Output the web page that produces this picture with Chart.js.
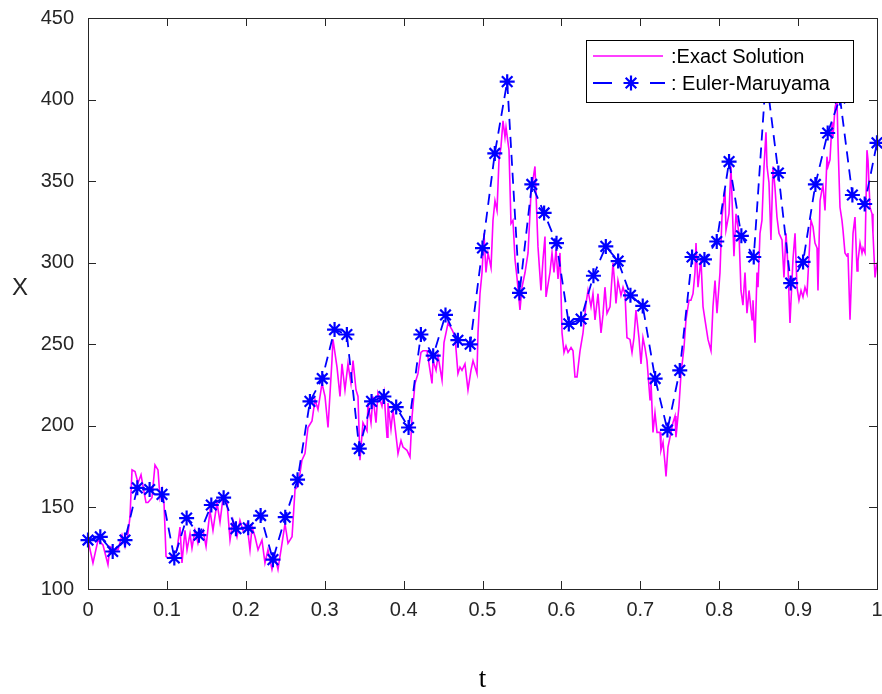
<!DOCTYPE html>
<html><head><meta charset="utf-8">
<script src="https://cdn.jsdelivr.net/npm/chart.js@4/dist/chart.umd.min.js"></script>
<style>html,body{margin:0;padding:0;background:#fff;overflow:hidden}canvas{display:block}</style>
</head><body>
<canvas id="c" width="882" height="694"></canvas>
<script>
// ---- data ----
const exactT = [
0,0.0063,0.0127,0.0190,0.0253,0.0279,0.0342,0.0380,0.0431,0.0469,
0.0507,0.0532,0.0558,0.0596,0.0634,0.0672,0.0697,0.0735,0.0760,0.0811,
0.0849,0.0887,0.0913,0.0938,0.0963,0.0989,0.1014,0.1065,0.1128,0.1166,
0.1191,0.1229,0.1255,0.1293,0.1318,0.1356,0.1394,0.1420,0.1458,0.1496,
0.1546,0.1584,0.1635,0.1673,0.1711,0.1762,0.1800,0.1838,0.1888,0.1926,
0.1964,0.2015,0.2053,0.2079,0.2117,0.2155,0.2205,0.2243,0.2281,0.2332,
0.2370,0.2408,0.2459,0.2497,0.2535,0.2586,0.2624,0.2662,0.2712,0.2750,
0.2788,0.2839,0.2877,0.2915,0.2966,0.3004,0.3042,0.3092,0.3105,0.3156,
0.3194,0.3219,0.3257,0.3295,0.3333,0.3359,0.3397,0.3422,0.3447,0.3485,
0.3536,0.3549,0.3587,0.3612,0.3650,0.3675,0.3726,0.3752,0.3790,0.3802,
0.3840,0.3866,0.3916,0.3929,0.3967,0.3992,0.4043,0.4081,0.4106,0.4144,
0.4182,0.4220,0.4246,0.4297,0.4322,0.4360,0.4373,0.4411,0.4436,0.4487,
0.4512,0.4563,0.4613,0.4651,0.4689,0.4715,0.4740,0.4778,0.4816,0.4854,
0.4880,0.4918,0.4930,0.4943,0.4968,0.4994,0.5019,0.5044,0.5070,0.5108,
0.5133,0.5158,0.5184,0.5209,0.5234,0.5260,0.5285,0.5298,0.5336,0.5361,
0.5386,0.5412,0.5437,0.5475,0.5501,0.5539,0.5577,0.5615,0.5640,0.5665,
0.5678,0.5703,0.5741,0.5767,0.5792,0.5805,0.5855,0.5881,0.5906,0.5932,
0.5957,0.5982,0.6008,0.6033,0.6058,0.6084,0.6122,0.6147,0.6172,0.6198,
0.6236,0.6274,0.6312,0.6337,0.6375,0.6400,0.6426,0.6464,0.6502,0.6527,
0.6552,0.6578,0.6616,0.6654,0.6679,0.6692,0.6717,0.6755,0.6781,0.6806,
0.6831,0.6869,0.6895,0.6920,0.6945,0.6983,0.7009,0.7034,0.7059,0.7085,
0.7123,0.7135,0.7161,0.7186,0.7212,0.7250,0.7262,0.7288,0.7313,0.7326,
0.7351,0.7389,0.7414,0.7440,0.7452,0.7490,0.7516,0.7554,0.7579,0.7617,
0.7642,0.7668,0.7693,0.7706,0.7731,0.7769,0.7795,0.7820,0.7858,0.7896,
0.7921,0.7947,0.7972,0.8010,0.8035,0.8073,0.8086,0.8124,0.8149,0.8187,
0.8213,0.8251,0.8276,0.8301,0.8327,0.8352,0.8378,0.8416,0.8428,0.8454,
0.8479,0.8492,0.8517,0.8542,0.8568,0.8593,0.8606,0.8631,0.8656,0.8682,
0.8707,0.8732,0.8758,0.8796,0.8821,0.8847,0.8872,0.8897,0.8935,0.8961,
0.8986,0.9011,0.9037,0.9062,0.9087,0.9113,0.9125,0.9163,0.9189,0.9214,
0.9240,0.9252,0.9278,0.9303,0.9316,0.9341,0.9366,0.9379,0.9404,0.9430,
0.9442,0.9468,0.9493,0.9506,0.9531,0.9556,0.9569,0.9594,0.9620,0.9632,
0.9658,0.9683,0.9696,0.9721,0.9747,0.9759,0.9785,0.9810,0.9823,0.9848,
0.9873,0.9886,0.9911,0.9937,0.9949,0.9975,1
];
const exactX = [
130,116,130,127,115,126,124,124,133,126,
134,144,173,172,165,170,163,153,153,156,
176,173,156,161,153,120,119,120,124,138,
116,136,124,134,125,136,128,133,136,126,
148,136,153,141,156,153,130,142,132,142,
136,140,124,138,132,124,130,116,124,112,
120,112,128,140,128,132,161,163,179,183,
199,203,216,210,226,218,199,240,253,236,
218,238,222,238,226,240,222,218,179,202,
197,214,202,218,202,220,212,220,193,214,
198,210,189,183,191,187,185,181,205,226,
232,245,246,246,238,226,240,234,243,228,
251,263,259,255,232,236,234,238,222,234,
240,234,232,257,281,294,318,294,306,297,
326,338,332,363,371,387,377,383,369,324,
326,302,291,271,285,294,306,343,351,359,
343,310,283,302,316,279,294,306,294,308,
290,306,257,245,249,245,248,246,230,230,
246,257,275,283,273,281,265,281,257,268,
285,269,273,300,285,275,289,280,285,281,
254,253,245,254,271,254,238,254,248,240,
216,228,196,208,196,196,185,190,177,169,
187,196,202,206,193,212,232,248,265,277,
277,281,294,312,285,302,273,265,253,246,
273,289,269,294,328,345,320,330,359,304,
330,318,283,274,294,269,283,265,277,251,
294,285,318,326,359,380,359,349,314,359,
346,328,318,314,291,318,297,263,302,318,
285,277,283,279,285,281,281,326,322,312,
309,283,338,345,347,332,365,359,363,386,
377,395,400,373,334,326,320,306,304,306,
265,300,318,328,295,301,312,306,309,306,
369,363,334,330,318,291,300
];
const emT = [0,0.0156,0.0313,0.0469,0.0625,0.0781,0.0938,0.1094,0.125,0.1406,0.1563,0.1719,0.1875,0.2031,0.2188,0.2344,0.25,0.2656,0.2813,0.2969,0.3125,0.3281,0.3438,0.3594,0.375,0.3906,0.4063,0.4219,0.4375,0.4531,0.4688,0.4844,0.5,0.5156,0.5313,0.5469,0.5625,0.5781,0.5938,0.6094,0.625,0.6406,0.6563,0.6719,0.6875,0.7031,0.7188,0.7344,0.75,0.7656,0.7813,0.7969,0.8125,0.8281,0.8438,0.8594,0.875,0.8906,0.9063,0.9219,0.9375,0.9531,0.9688,0.9844,1];
const emX = [130,132,123,130,162,161,158,119,143.5,133,151.5,156,137,137.5,145,118,144,167,215,229,259,256,186,215,218,211.5,199,256,243,268,252.5,250,309,367,411,281.5,348,330.5,312,262.5,265.5,292,310,301,280,273.5,229,197.5,234,303.5,302,313,362,316.5,303.5,415,355,287.5,300.5,348,379.5,401,341.5,336,373.5];
const xTickValues = [0,0.1,0.2,0.3,0.4,0.5,0.6,0.7,0.8,0.9,1];
const xTickLabels = ['0','0.1','0.2','0.3','0.4','0.5','0.6','0.7','0.8','0.9','1'];
const yTickValues = [100,150,200,250,300,350,400,450];
const yTickLabels = ['100','150','200','250','300','350','400','450'];
const seriesNames = [':Exact Solution', ': Euler-Maruyama'];
const xTitle = 't';
const yTitle = 'X';

// ---- styling ----
const AXIS = '#262626';
const MAGENTA = '#ff00ff';
const BLUE = '#0000ff';
const SANS = '"Liberation Sans", Arial, sans-serif';
const SERIF = '"Liberation Serif", "Times New Roman", serif';
const EM_DASH = [11, 7];

const framePlugin = {
  id: 'frame',
  afterDatasetsDraw(chart) {
    const ctx = chart.ctx, a = chart.chartArea;
    const xs = chart.scales.x, ys = chart.scales.y;
    const TL = 8;
    ctx.save();
    ctx.strokeStyle = AXIS; ctx.lineWidth = 1; ctx.setLineDash([]);
    ctx.strokeRect(Math.round(a.left) + 0.5, Math.round(a.top) + 0.5, Math.round(a.right - a.left), Math.round(a.bottom - a.top));
    ctx.beginPath();
    xTickValues.forEach(v => {
      const px = Math.round(xs.getPixelForValue(v)) + 0.5;
      ctx.moveTo(px, a.bottom); ctx.lineTo(px, a.bottom - TL);
      ctx.moveTo(px, a.top); ctx.lineTo(px, a.top + TL);
    });
    yTickValues.forEach(v => {
      const py = Math.round(ys.getPixelForValue(v)) + 0.5;
      ctx.moveTo(a.left, py); ctx.lineTo(a.left + TL, py);
      ctx.moveTo(a.right, py); ctx.lineTo(a.right - TL, py);
    });
    ctx.stroke();

    // y-axis title
    ctx.fillStyle = AXIS;
    ctx.font = '24px ' + SANS;
    ctx.textAlign = 'center'; ctx.textBaseline = 'middle';
    ctx.fillText(yTitle, 20, (a.top + a.bottom) / 2 - 15);

    // legend box (top-right inside the axes)
    const lx = a.right - 291, ly = a.top + 22, lw = 267, lh = 62;
    ctx.fillStyle = '#fff';
    ctx.fillRect(lx, ly, lw, lh);
    ctx.strokeStyle = '#000'; ctx.lineWidth = 1;
    ctx.strokeRect(Math.round(lx) + 0.5, Math.round(ly) + 0.5, lw, lh);
    const r1 = ly + 16, r2 = ly + 43;
    ctx.strokeStyle = MAGENTA; ctx.lineWidth = 1.5;
    ctx.beginPath(); ctx.moveTo(lx + 7, r1); ctx.lineTo(lx + 77, r1); ctx.stroke();
    ctx.strokeStyle = BLUE; ctx.lineWidth = 1.8;
    ctx.beginPath();
    ctx.moveTo(lx + 7, r2); ctx.lineTo(lx + 26, r2);
    ctx.moveTo(lx + 64, r2); ctx.lineTo(lx + 79, r2);
    ctx.stroke();
    ctx.lineWidth = 2.2; ctx.fillStyle = BLUE;
    Chart.helpers.drawPoint(ctx, {pointStyle: 'star', radius: 7.5, rotation: 0, borderWidth: 2.2}, lx + 45, r2);
    ctx.fillStyle = '#000';
    ctx.font = '20px ' + SANS;
    ctx.textAlign = 'left'; ctx.textBaseline = 'middle';
    ctx.fillText(seriesNames[0], lx + 85, r1 + 1);
    ctx.fillText(seriesNames[1], lx + 85, r2 + 1);
    ctx.restore();
  }
};

new Chart(document.getElementById('c'), {
  type: 'line',
  data: {
    datasets: [
      {
        label: seriesNames[0],
        data: exactT.map((t, i) => ({x: t, y: exactX[i]})),
        borderColor: MAGENTA, borderWidth: 1.6,
        pointRadius: 0, tension: 0, fill: false, clip: false, order: 2
      },
      {
        label: seriesNames[1],
        data: emT.map((t, i) => ({x: t, y: emX[i]})),
        borderColor: BLUE, borderWidth: 1.8, borderDash: EM_DASH,
        pointStyle: 'star', pointRadius: 7.5, pointBorderWidth: 2.2,
        pointBorderColor: BLUE, pointBackgroundColor: BLUE,
        tension: 0, fill: false, clip: false, order: 1
      }
    ]
  },
  options: {
    responsive: false, animation: false, devicePixelRatio: 1,
    layout: {autoPadding: false, padding: {left: 0, right: 5, top: 18, bottom: 0}},
    plugins: {legend: {display: false}, tooltip: {enabled: false}},
    scales: {
      x: {
        type: 'linear', min: 0, max: 1,
        afterBuildTicks: s => { s.ticks = xTickValues.map(v => ({value: v})); },
        afterFit: s => { s.height = 105; s.paddingLeft = 0; s.paddingRight = 0; },
        grid: {display: false, drawTicks: false},
        border: {display: false},
        ticks: {
          autoSkip: false, maxRotation: 0, padding: 9, color: AXIS,
          font: {family: SANS, size: 20},
          callback: (v, i) => xTickLabels[i]
        },
        title: {display: true, text: xTitle, color: '#000', padding: {top: 0, bottom: -2},
                font: {family: SERIF, size: 27}}
      },
      y: {
        type: 'linear', min: 100, max: 450,
        afterBuildTicks: s => { s.ticks = yTickValues.map(v => ({value: v})); },
        afterFit: s => { s.width = 88; s.paddingTop = 0; s.paddingBottom = 0; },
        grid: {display: false, drawTicks: false},
        border: {display: false},
        ticks: {
          autoSkip: false, padding: 14, color: AXIS,
          font: {family: SANS, size: 20},
          callback: (v, i) => yTickLabels[i]
        }
      }
    }
  },
  plugins: [framePlugin]
});
</script>
</body></html>
